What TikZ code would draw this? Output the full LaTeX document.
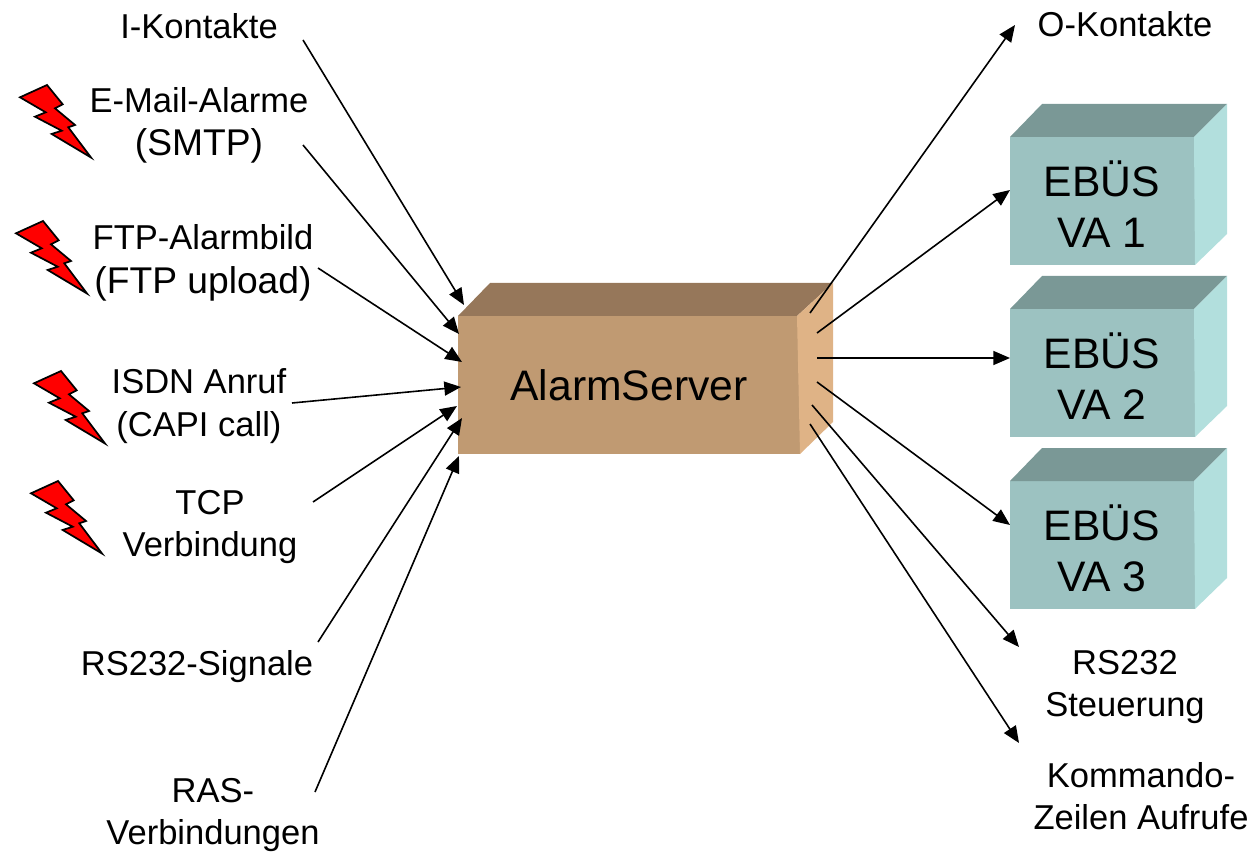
\documentclass[tikz,border=0pt]{standalone}
\usepackage{fontspec}
\setmainfont{Liberation Sans}
\usetikzlibrary{arrows.meta}
\definecolor{srvfront}{HTML}{C09A72}
\definecolor{srvtop}{HTML}{96775A}
\definecolor{srvside}{HTML}{DFB386}
\definecolor{vafront}{HTML}{9CC2C1}
\definecolor{vatop}{HTML}{7A9896}
\definecolor{vaside}{HTML}{B2DFDD}
\newcommand{\biggerline}{\fontsize{27.9pt}{33.4pt}\selectfont}
\tikzset{
  lbl/.style={font=\fontsize{25.9pt}{32pt}\selectfont,align=center,inner sep=0pt,text=black},
  boxlbl/.style={font=\fontsize{32pt}{38.2pt}\selectfont,align=center,inner sep=0pt,text=black},
  conn/.style={line width=1.2pt,-{Triangle[length=12.5pt,width=10.5pt]}},
  bolt/.style={draw=black,fill=red,line width=1.3pt,line join=miter},
  pics/flash/.style={code={
    \draw[bolt] (20,97.3)--(47,85)--(62.7,104.3)--(55,108.3)--(75,125)--(68.3,127.3)--(91,157.5)--(51.7,134)--(61.7,130.7)--(35,116.7)--(45.7,112.3)--cycle;
  }},
  pics/vabox/.style={code={
    \fill[vafront] (1010,137) rectangle (1195,265);
    \fill[vatop] (1010,137)--(1042,104)--(1227,104)--(1194,137)--cycle;
    \fill[vaside] (1194,137)--(1227,104)--(1227,234)--(1195,265)--cycle;
  }}
}
\begin{document}
\begin{tikzpicture}[x=0.75pt,y=-0.75pt]
\useasboundingbox (0,0) rectangle (1253,852);
% lightning
\pic at (0,0) {flash};
\pic at (-4,136) {flash};
\pic at (14,286) {flash};
\pic at (11,396) {flash};
% server box
\fill[srvfront] (458,316) rectangle (800,454);
\fill[srvtop] (458,316)--(490,283)--(833,283)--(797,316)--cycle;
\fill[srvside] (797,316)--(833,283)--(833,422)--(800,454)--cycle;
\node[boxlbl] (server) at (629,385) {AlarmServer};
% VA boxes
\pic at (0,0) {vabox};
\pic at (0,172) {vabox};
\pic at (0,344) {vabox};
\node[boxlbl] (va1) at (1102,204) {EBÜS\\VA 1};
\node[boxlbl] (va2) at (1102,376) {EBÜS\\VA 2};
\node[boxlbl] (va3) at (1102,548) {EBÜS\\VA 3};
% labels
\node[lbl] (ikon) at (199,26) {I-Kontakte};
\node[lbl] (mail) at (199,125.5) {E-Mail-Alarme\\\biggerline (SMTP)};
\node[lbl] (ftp) at (203,263) {FTP-Alarmbild\\[1.5pt]\biggerline (FTP upload)};
\node[lbl] (isdn) at (199,406) {ISDN Anruf\\(CAPI call)};
\node[lbl] (tcp) at (210,527) {TCP\\Verbindung};
\node[lbl] (rssig) at (197,667) {RS232-Signale};
\node[lbl] (ras) at (213,815) {RAS-\\Verbindungen};
\node[lbl] (okon) at (1125,24) {O-Kontakte};
\node[lbl] (rsst) at (1125,687) {RS232\\Steuerung};
\node[lbl] (komm) at (1141,796) {Kommando-\\Zeilen Aufrufe};
% connector ends
\coordinate (a1) at (303,40);   \coordinate (b1) at (464,305);
\coordinate (a2) at (303,145);  \coordinate (b2) at (459,334);
\coordinate (a3) at (318,268);  \coordinate (b3) at (462,362);
\coordinate (a4) at (292,403);  \coordinate (b4) at (461,387);
\coordinate (a5) at (313,502);  \coordinate (b5) at (457,406);
\coordinate (a6) at (318,642);  \coordinate (b6) at (462,418);
\coordinate (a7) at (315,792);  \coordinate (b7) at (459,456);
\coordinate (c1) at (810,313);  \coordinate (d1) at (1015,25);
\coordinate (c2) at (817,333);  \coordinate (d2) at (1010,190);
\coordinate (c3) at (817,358);  \coordinate (d3) at (1010,358);
\coordinate (c4) at (817,382);  \coordinate (d4) at (1010,525);
\coordinate (c5) at (812,405);  \coordinate (d5) at (1019,647);
\coordinate (c6) at (810,424);  \coordinate (d6) at (1019,743);
\foreach \s/\e in {a1/b1,a2/b2,a3/b3,a4/b4,a5/b5,a6/b6,a7/b7,c1/d1,c2/d2,c3/d3,c4/d4,c5/d5,c6/d6}
  \draw[conn] (\s) -- (\e);
\end{tikzpicture}
\end{document}
